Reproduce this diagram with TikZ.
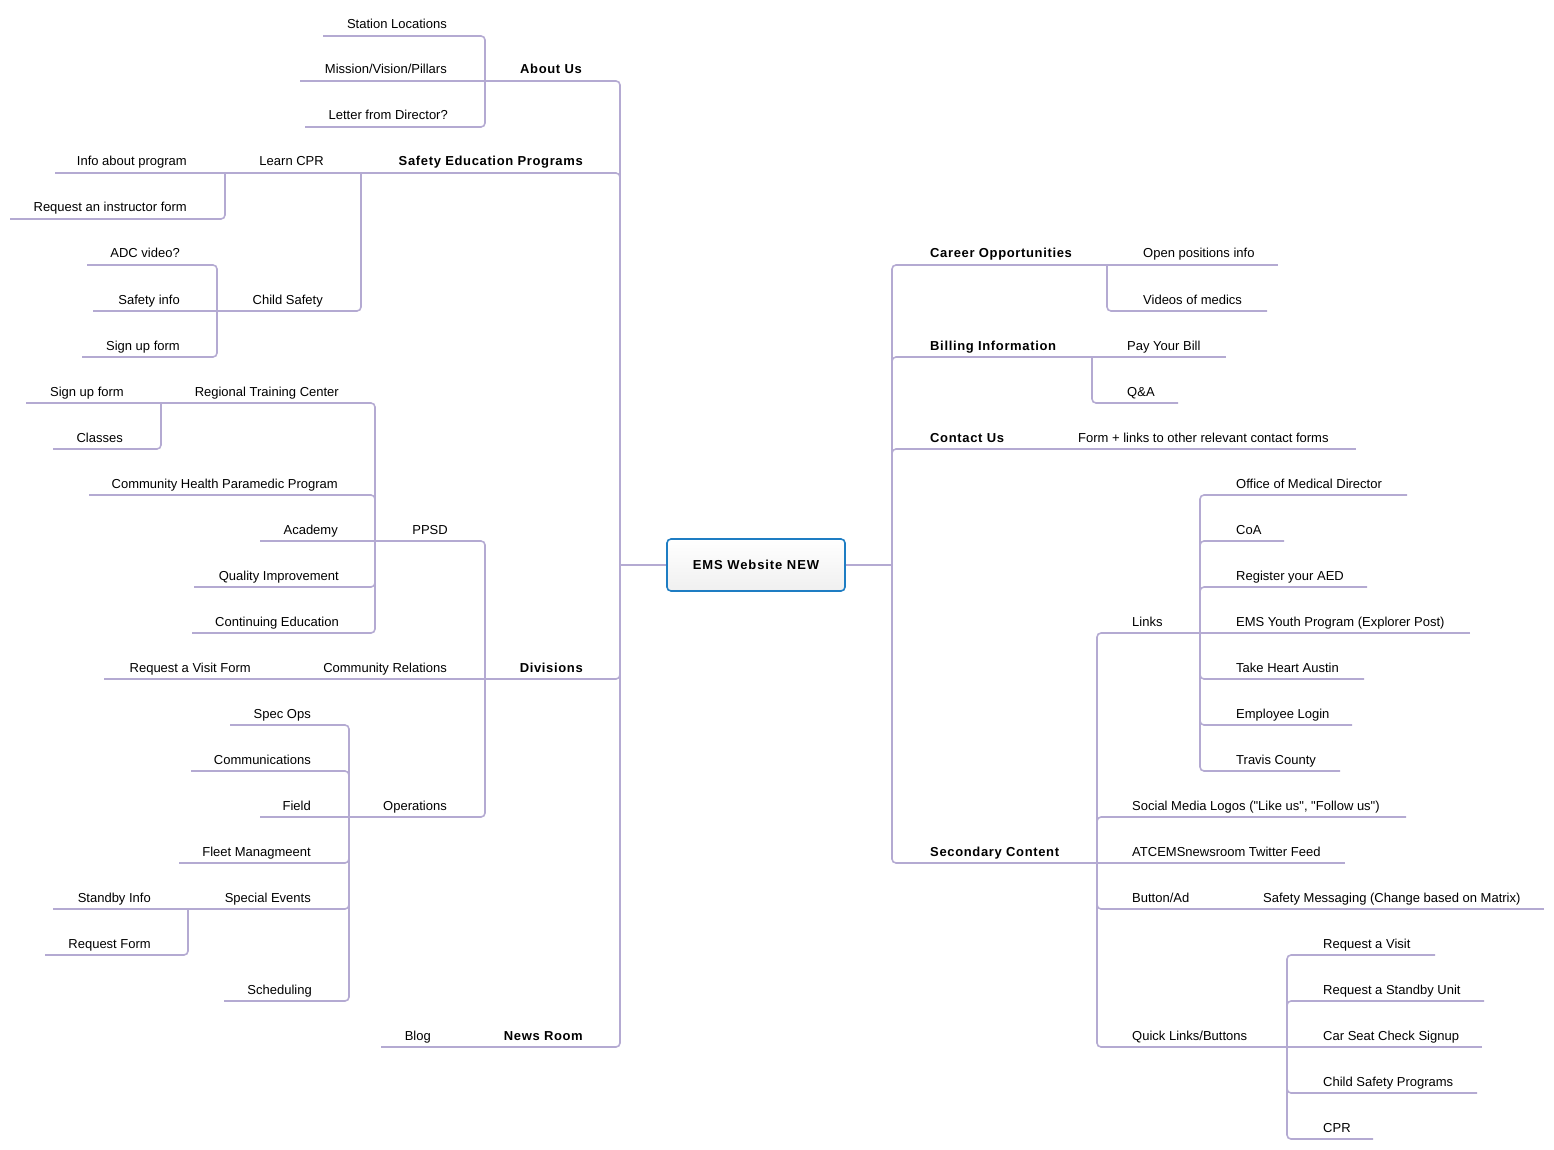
\documentclass[tikz,border=0pt]{standalone}
\usepackage{fontspec}
\setmainfont{Liberation Sans}
\newfontfamily\bsp{Liberation Sans}[LetterSpace=5]
\newfontfamily\bspc{Liberation Sans}[LetterSpace=7]
\usetikzlibrary{calc}
\definecolor{lnc}{RGB}{180,170,210}
\definecolor{boxc}{RGB}{30,125,195}
\newcommand\LN[6]{% name, xright, yunder, endx, text, style
  \node[t,#6,anchor=base east] (#1) at (#2,#3-7) {#5};
  \coordinate (#1-e) at (#4,#3);}
\newcommand\RN[6]{% name, xleft, yunder, endx, text, style
  \node[t,#6,anchor=base west] (#1) at (#2,#3-7) {#5};
  \coordinate (#1-e) at (#4,#3);}
\newcommand\CON[2]{\draw[ln] (#1-e) -| (#2-e);}
\newcommand\CONH[2]{\draw[ln] (#1-e) -- (#2-e);}
\begin{document}
\begin{tikzpicture}[x=1pt,y=-1pt,
  t/.style={inner sep=0pt,font=\fontsize{13}{15}\selectfont},
  mt/.style={font=\fontsize{13}{15}\selectfont\bsp\bfseries},
  lf/.style={},
  ln/.style={draw=lnc,line width=1.6pt,rounded corners=4pt},
  centerbox/.style={draw=boxc,line width=1.6pt,rounded corners=4pt,
    top color=white,bottom color=black!6,minimum width=178pt,minimum height=52pt,
    inner sep=0pt,font=\fontsize{13}{15}\selectfont\bspc\bfseries}]
\useasboundingbox (0,0) rectangle (1554,1150);
% center
\coordinate (center-l-e) at (620,565);
\coordinate (center-r-e) at (892,565);
% ---- left side
\LN{aboutus}{582}{81}{485}{About Us}{mt}
\LN{station}{447}{36}{323}{Station Locations}{lf}
\LN{mission}{447}{81}{300}{Mission/Vision/Pillars}{lf}
\LN{letter}{448}{127}{305}{Letter from Director?}{lf}
\LN{safety}{583}{173}{361}{Safety Education Programs}{mt}
\LN{learncpr}{324}{173}{225}{Learn CPR}{lf}
\LN{info}{187}{173}{55}{Info about program}{lf}
\LN{reqinstr}{187}{219}{10}{Request an instructor form}{lf}
\LN{childsafety}{323}{311}{217}{Child Safety}{lf}
\LN{adc}{180}{265}{87}{ADC video?}{lf}
\LN{safetyinfo}{180}{311}{93}{Safety info}{lf}
\LN{signupa}{180}{357}{82}{Sign up form}{lf}
\LN{divisions}{583}{679}{485}{Divisions}{mt}
\LN{ppsd}{448}{541}{375}{PPSD}{lf}
\LN{rtc}{339}{403}{161}{Regional Training Center}{lf}
\LN{signupb}{124}{403}{26}{Sign up form}{lf}
\LN{classes}{123}{449}{53}{Classes}{lf}
\LN{chpp}{338}{495}{89}{Community Health Paramedic Program}{lf}
\LN{academy}{338}{541}{260}{Academy}{lf}
\LN{qi}{339}{587}{194}{Quality Improvement}{lf}
\LN{ce}{339}{633}{192}{Continuing Education}{lf}
\LN{commrel}{447}{679}{288}{Community Relations}{lf}
\LN{reqvisitform}{251}{679}{104}{Request a Visit Form}{lf}
\LN{operations}{447}{817}{349}{Operations}{lf}
\LN{specops}{311}{725}{230}{Spec Ops}{lf}
\LN{comms}{311}{771}{191}{Communications}{lf}
\LN{field}{311}{817}{260}{Field}{lf}
\LN{fleet}{311}{863}{179}{Fleet Managmeent}{lf}
\LN{specev}{311}{909}{188}{Special Events}{lf}
\LN{standby}{151}{909}{53}{Standby Info}{lf}
\LN{reqform}{151}{955}{45}{Request Form}{lf}
\LN{sched}{312}{1001}{224}{Scheduling}{lf}
\LN{newsroom}{583}{1047}{468}{News Room}{mt}
\LN{blog}{431}{1047}{381}{Blog}{lf}
% ---- right side
\RN{career}{930}{265}{1107}{Career Opportunities}{mt}
\RN{openpos}{1143}{265}{1278}{Open positions info}{lf}
\RN{videos}{1143}{311}{1267}{Videos of medics}{lf}
\RN{billing}{930}{357}{1092}{Billing Information}{mt}
\RN{paybill}{1127}{357}{1226}{Pay Your Bill}{lf}
\RN{qa}{1127}{403}{1178}{Q\&A}{lf}
\RN{contact}{930}{449}{1042}{Contact Us}{mt}
\RN{formlinks}{1078}{449}{1356}{Form + links to other relevant contact forms}{lf}
\RN{secondary}{930}{863}{1097}{Secondary Content}{mt}
\RN{links}{1132}{633}{1200}{Links}{lf}
\RN{omd}{1236}{495}{1407}{Office of Medical Director}{lf}
\RN{coa}{1236}{541}{1284}{CoA}{lf}
\RN{aed}{1236}{587}{1367}{Register your AED}{lf}
\RN{youth}{1236}{633}{1470}{EMS Youth Program (Explorer Post)}{lf}
\RN{takeheart}{1236}{679}{1364}{Take Heart Austin}{lf}
\RN{emplogin}{1236}{725}{1352}{Employee Login}{lf}
\RN{travis}{1236}{771}{1340}{Travis County}{lf}
\RN{social}{1132}{817}{1406}{Social Media Logos (\textquotedbl Like us\textquotedbl, \textquotedbl Follow us\textquotedbl)}{lf}
\RN{twitter}{1132}{863}{1345}{ATCEMSnewsroom Twitter Feed}{lf}
\RN{buttonad}{1132}{909}{1227}{Button/Ad}{lf}
\RN{safetymsg}{1263}{909}{1544}{Safety Messaging (Change based on Matrix)}{lf}
\RN{quick}{1132}{1047}{1287}{Quick Links/Buttons}{lf}
\RN{reqvisit}{1323}{955}{1435}{Request a Visit}{lf}
\RN{standbyunit}{1323}{1001}{1484}{Request a Standby Unit}{lf}
\RN{carseat}{1323}{1047}{1482}{Car Seat Check Signup}{lf}
\RN{childprog}{1323}{1093}{1477}{Child Safety Programs}{lf}
\RN{cpr}{1323}{1139}{1373}{CPR}{lf}
% ---- connectors left
\CON{aboutus}{center-l}
\CON{safety}{center-l}
\CON{divisions}{center-l}
\CON{newsroom}{center-l}
\CON{station}{aboutus}
\CONH{mission}{aboutus}
\CON{letter}{aboutus}
\CONH{learncpr}{safety}
\CON{childsafety}{safety}
\CONH{info}{learncpr}
\CON{reqinstr}{learncpr}
\CON{adc}{childsafety}
\CONH{safetyinfo}{childsafety}
\CON{signupa}{childsafety}
\CON{ppsd}{divisions}
\CONH{commrel}{divisions}
\CON{operations}{divisions}
\CON{rtc}{ppsd}
\CON{chpp}{ppsd}
\CONH{academy}{ppsd}
\CON{qi}{ppsd}
\CON{ce}{ppsd}
\CONH{signupb}{rtc}
\CON{classes}{rtc}
\CONH{reqvisitform}{commrel}
\CON{specops}{operations}
\CON{comms}{operations}
\CONH{field}{operations}
\CON{fleet}{operations}
\CON{specev}{operations}
\CON{sched}{operations}
\CONH{standby}{specev}
\CON{reqform}{specev}
\CONH{blog}{newsroom}
% ---- connectors right
\CON{career}{center-r}
\CON{billing}{center-r}
\CON{contact}{center-r}
\CON{secondary}{center-r}
\CONH{openpos}{career}
\CON{videos}{career}
\CONH{paybill}{billing}
\CON{qa}{billing}
\CONH{formlinks}{contact}
\CON{links}{secondary}
\CON{social}{secondary}
\CONH{twitter}{secondary}
\CON{buttonad}{secondary}
\CON{quick}{secondary}
\CON{omd}{links}
\CON{coa}{links}
\CON{aed}{links}
\CONH{youth}{links}
\CON{takeheart}{links}
\CON{emplogin}{links}
\CON{travis}{links}
\CONH{safetymsg}{buttonad}
\CON{reqvisit}{quick}
\CON{standbyunit}{quick}
\CONH{carseat}{quick}
\CON{childprog}{quick}
\CON{cpr}{quick}
% ---- center node
\node[centerbox] (center) at (756,565) {EMS Website NEW};
\draw[ln] (center.west) -- (center-l-e);
\draw[ln] (center.east) -- (center-r-e);
\end{tikzpicture}
\end{document}
